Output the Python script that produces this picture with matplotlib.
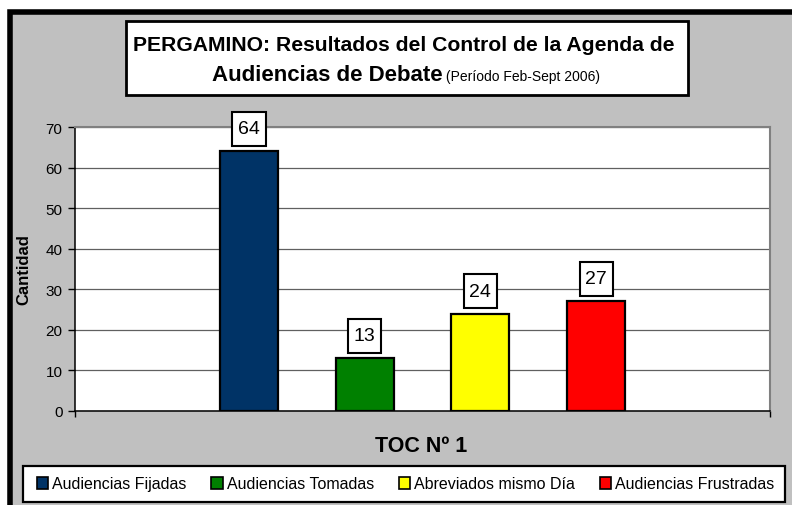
import matplotlib
matplotlib.use("Agg")
import matplotlib.pyplot as plt
from matplotlib.patches import Rectangle, Patch
from matplotlib.path import Path

plt.rcParams["font.family"] = ["Liberation Sans", "DejaVu Sans"]

# Datos
categorias = ["Audiencias Fijadas", "Audiencias Tomadas",
              "Abreviados mismo Día", "Audiencias Frustradas"]
valores = [64, 13, 24, 27]
colores = ["#003366", "#008000", "#FFFF00", "#FF0000"]
grupo = "TOC Nº 1"
marcas_y = [0, 10, 20, 30, 40, 50, 60, 70]

titulo_1 = "PERGAMINO: Resultados del Control de la Agenda de"
titulo_2 = "Audiencias de Debate"
subtitulo = " (Período Feb-Sept 2006)"

W, H = 792, 506
fig = plt.figure(figsize=(W / 100, H / 100), dpi=100)
fig.patch.set_facecolor("white")


def fx(x):
    return x / W


def fy(y):
    return 1 - y / H


def caja(x0, y0, width, height, mutation_size):
    # caja rectangular con más relleno vertical que horizontal
    px = 0.3 * mutation_size
    py = 0.45 * mutation_size
    x0, x1 = x0 - px, x0 + width + px
    y0, y1 = y0 - py, y0 + height + py
    return Path([(x0, y0), (x1, y0), (x1, y1), (x0, y1), (x0, y0)], closed=True)


# fondo gris con borde negro grueso
fig.patches.append(Rectangle((fx(9.8), -0.1), 1.2, fy(12.5) + 0.1,
                             transform=fig.transFigure, facecolor="#C0C0C0",
                             edgecolor="black", linewidth=4, zorder=-5))

ax = fig.add_axes([fx(75), fy(412), (770 - 75) / W, (412 - 128) / H])
ax.set_facecolor("white")

n = len(valores)
xs = [i - (n - 1) / 2 for i in range(n)]
ax.bar(xs, valores, width=0.5, color=colores, edgecolor="black",
       linewidth=1.6, zorder=3)

ax.set_xlim(-n / 2 - 1, n / 2 + 1)
ax.set_ylim(marcas_y[0], marcas_y[-1])
ax.set_yticks(marcas_y)
ax.set_xticks([-n / 2 - 1, n / 2 + 1])
ax.set_xticklabels([])
ax.tick_params(axis="y", direction="out", length=5, width=1, pad=4,
               labelsize=11)
ax.tick_params(axis="x", direction="out", length=4, width=1)
ax.yaxis.grid(True, color="#606060", linewidth=0.9)
ax.set_axisbelow(True)

for lado in ("left", "bottom"):
    ax.spines[lado].set_color("black")
    ax.spines[lado].set_linewidth(1.1)
for lado in ("top", "right"):
    ax.spines[lado].set_color("#808080")
    ax.spines[lado].set_linewidth(1.5)

# etiquetas de valor en caja blanca
for x, v in zip(xs, valores):
    ax.annotate(f"{v}", xy=(x, v), xytext=(0, 14), textcoords="offset pixels",
                ha="center", va="bottom", fontsize=14, zorder=5,
                bbox=dict(boxstyle=caja, facecolor="white",
                          edgecolor="black", linewidth=1.5))

fig.text(fx(24), fy(270), "Cantidad", rotation=90, ha="center", va="center",
         fontsize=12, fontweight="bold")
fig.text(fx(421.5), fy(452), grupo, ha="center", va="baseline",
         fontsize=15.5, fontweight="bold")

# caja del título
fig.patches.append(Rectangle((fx(126), fy(96)), (688 - 126) / W, (96 - 22) / H,
                             transform=fig.transFigure, facecolor="white",
                             edgecolor="black", linewidth=2, zorder=1))
fig.text(fx(404), fy(51), titulo_1, ha="center", va="baseline",
         fontsize=15.2, fontweight="bold", zorder=2)

r = fig.canvas.get_renderer()
t1 = fig.text(0, fy(81), titulo_2, ha="left", va="baseline",
              fontsize=16, fontweight="bold", zorder=2)
t2 = fig.text(0, fy(81), subtitulo, ha="left", va="baseline",
              fontsize=10, zorder=2)
w1 = t1.get_window_extent(r).width
w2 = t2.get_window_extent(r).width
x0 = 406 - (w1 + w2) / 2
t1.set_x(fx(x0))
t2.set_x(fx(x0 + w1))

# leyenda: marco dibujado aparte, entradas repartidas dentro
fig.patches.append(Rectangle((fx(23), fy(503)), (785 - 23) / W, (503 - 467) / H,
                             transform=fig.transFigure, facecolor="white",
                             edgecolor="black", linewidth=1.6, zorder=1))
manijas = [Patch(facecolor=c, edgecolor="black", linewidth=1.2) for c in colores]
leg = fig.legend(manijas, categorias, loc="center", ncol=4, mode="expand",
                 bbox_to_anchor=(fx(37), fy(503), (774 - 37) / W, (503 - 467) / H),
                 fontsize=11.5, frameon=False, handlelength=0.7,
                 handleheight=0.7, handletextpad=0.25, borderaxespad=0,
                 borderpad=0, columnspacing=1.0)
leg.set_zorder(3)

fig.savefig("out.png", dpi=100)
